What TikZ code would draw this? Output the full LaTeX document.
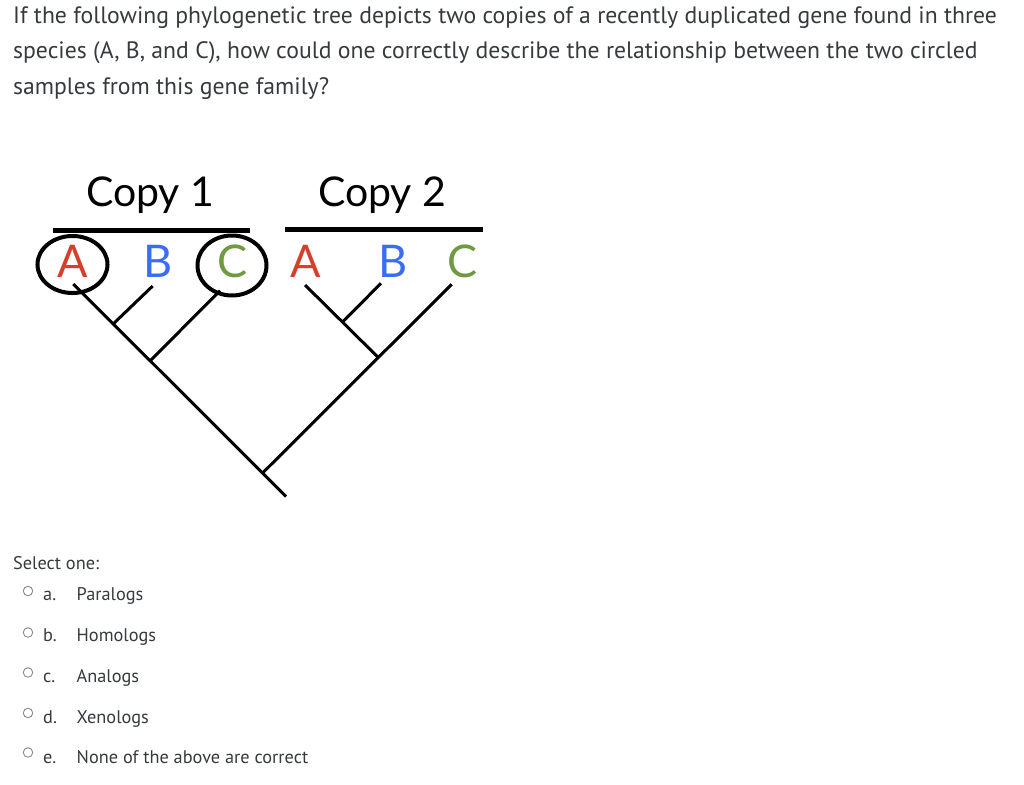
\documentclass[tikz,border=0pt]{standalone}
\usepackage{fontspec}
\setmainfont{PT Sans}
\newfontfamily\treefont{Lato}
\usetikzlibrary{shapes.geometric}
\definecolor{txt}{HTML}{373A3C}
\definecolor{spA}{HTML}{D5402A}
\definecolor{spB}{HTML}{3A6CF4}
\definecolor{spC}{HTML}{6F9A41}
\definecolor{radio}{HTML}{8A8A8A}
\begin{document}
\begin{tikzpicture}[x=1pt,y=-1pt,
  qtext/.style={anchor=base west, inner sep=0, text=txt, font=\fontsize{23.7}{28}\selectfont},
  opttext/.style={anchor=base west, inner sep=0, text=txt, font=\fontsize{18.3}{22}\selectfont},
  lab/.style={anchor=base, inner sep=0, font=\treefont\fontsize{45}{50}\selectfont},
  copylab/.style={anchor=base west, inner sep=0, font=\treefont\fontsize{41}{44}\selectfont},
  bar/.style={line width=5pt},
  branch/.style={line width=3pt},
  ring/.style={draw, ellipse, line width=4pt, inner sep=0},
  radiob/.style={draw=radio, circle, line width=0.9pt, minimum size=9.5pt, inner sep=0}
]
\useasboundingbox (0,0) rectangle (1024,784);

% question
\node[qtext] (q1) at (13,24) {If the following phylogenetic tree depicts two copies of a recently duplicated gene found in three};
\node[qtext] (q2) at (13,59) {species (A, B, and C), how could one correctly describe the relationship between the two circled};
\node[qtext] (q3) at (13,94) {samples from this gene family?};

% copy headers
\node[copylab] (c1) at (86,206) {Copy 1};
\node[copylab] (c2) at (318,206) {Copy 2};
\draw[bar] (52.7,230) -- (250,230);
\draw[bar] (285,229.5) -- (483,229.5);

% leaf labels
\node[lab, text=spA] (A1) at (72.5,277) {A};
\node[lab, text=spB] (B1) at (158,277) {B};
\node[lab, text=spC] (C1) at (232.5,277) {C};
\node[lab, text=spA] (A2) at (306,277) {A};
\node[lab, text=spB] (B2) at (393,277) {B};
\node[lab, text=spC] (C2) at (462.5,277) {C};

% circles
\node[ring, minimum width=70pt, minimum height=57pt] (rA) at (72.5,264.5) {};
\node[ring, minimum width=69pt, minimum height=60pt] (rC) at (232,265.5) {};

% tree
\coordinate (tA1) at (73.3,284);
\coordinate (tB1) at (152.7,286);
\coordinate (tC1) at (220,290.7);
\coordinate (tA2) at (305,285);
\coordinate (tB2) at (381,283.3);
\coordinate (tC2) at (451.7,284.3);
\coordinate (jB1) at (113.3,323.8);
\coordinate (jC1) at (150,361);
\coordinate (root) at (263.3,472.3);
\coordinate (base) at (286,496.5);
\coordinate (jA2) at (378.3,357.5);
\coordinate (jB2) at (342.7,321.8);
\draw[branch] (tA1) -- (base);
\draw[branch] (tB1) -- (jB1);
\draw[branch] (tC1) -- (jC1);
\draw[branch] (tC2) -- (root);
\draw[branch] (tA2) -- (jA2);
\draw[branch] (tB2) -- (jB2);

% options
\node[opttext] (sel) at (13,569.5) {Select one:};
\foreach \y/\l/\t/\cy [count=\i] in {600/a./Paralogs/591, 641/b./Homologs/632.5, 682/c./Analogs/672.5, 723/d./Xenologs/713, 763/e./None of the above are correct/752.5}{
  \node[radiob] (r\i) at (28,\cy) {};
  \node[opttext] (l\i) at (43,\y) {\l};
  \node[opttext] (o\i) at (76.5,\y) {\t};
}
\end{tikzpicture}
\end{document}
